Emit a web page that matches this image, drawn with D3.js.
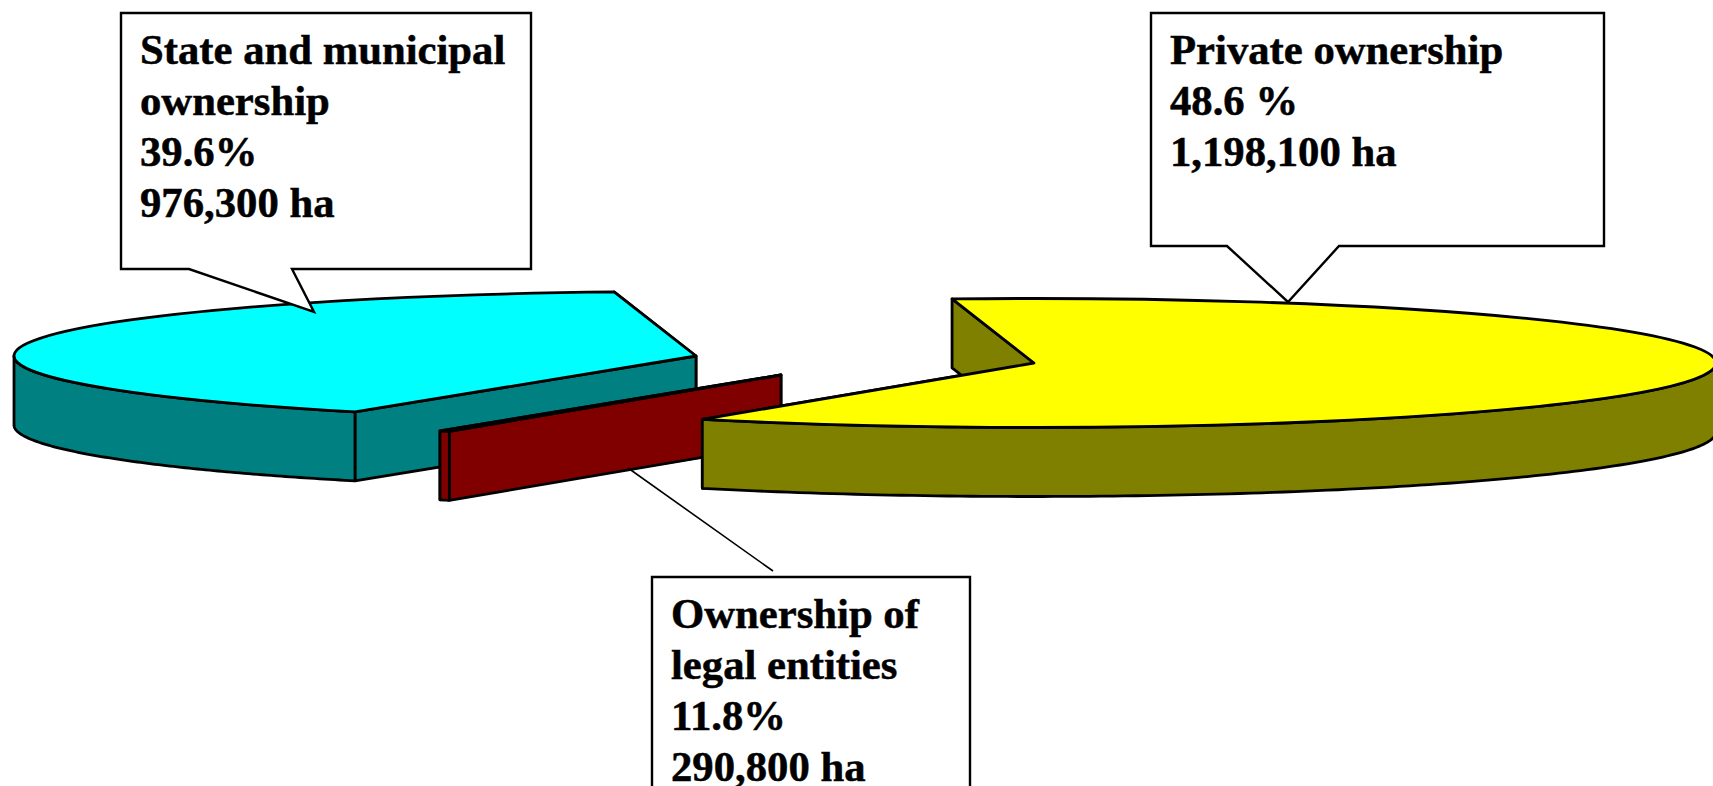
<!DOCTYPE html>
<html lang="en">
<head>
    <meta charset="UTF-8">
    <title>Land ownership</title>
    <script src="https://d3js.org/d3.v7.min.js"></script>
    <style>
        html, body { margin: 0; padding: 0; background: #fff; overflow: hidden; }
        svg { display: block; }
        .edge { stroke: #000; stroke-width: 2.8px; stroke-linejoin: round; }
        .top { vector-effect: non-scaling-stroke; }
        .box { fill: #fff; stroke: #000; stroke-width: 2.4px; stroke-linejoin: miter; }
        .leader { fill: none; stroke: #000; stroke-width: 1.6px; }
        .label { font: bold 42.7px "Liberation Serif", "Times New Roman", serif; fill: #000; stroke: #000; stroke-width: 0.5px; }
    </style>
</head>
<body>
    <div id="chart"></div>
    <script>
        // labels as printed on the callouts
        const categories = ["State and municipal ownership", "Ownership of legal entities", "Private ownership"];
        const shares = ["39.6%", "11.8%", "48.6 %"];
        const areas = ["976,300 ha", "290,800 ha", "1,198,100 ha"];
        // sweep of each slice in degrees as it is actually drawn (not the printed shares)
        const drawnSweep = [143.1, 0.9, 216];

        const topColors = ["#00ffff", "#800000", "#ffff00"];
        const sideColors = ["#008080", "#800000", "#808000"];

        const width = 1713, height = 786;
        const rx = 682, ry = 64.5, depth = 69;
        // each slice is pulled out of the pie, so each has its own centre
        const centres = [[696, 356], [781, 375], [1034, 363]];
        const rad = Math.PI / 180;

        const svg = d3.select("#chart").append("svg")
            .attr("width", width)
            .attr("height", height);

        const slices = d3.pie().sort(null).value(d => d)
            .startAngle(-6.9 * rad)
            .endAngle(-366.9 * rad)(drawnSweep);

        const arc = d3.arc().innerRadius(0).outerRadius(rx);
        const line = d3.line();

        slices.forEach(function(d, i) {
            const [cx, cy] = centres[i];
            const rim = a => [cx + rx * Math.sin(a), cy - ry * Math.cos(a)];
            const g = svg.append("g").attr("class", "slice");

            // two cut faces, the later one sits in front
            [d.startAngle, d.endAngle].forEach(function(a) {
                const p = rim(a);
                g.append("path")
                    .attr("class", "edge")
                    .attr("fill", sideColors[i])
                    .attr("d", line([[cx, cy], p, [p[0], p[1] + depth], [cx, cy + depth]]) + "Z");
            });

            // outer wall, only the part facing the viewer (-90 to -270 deg)
            const from = Math.min(d.startAngle, -90 * rad);
            const to = Math.max(d.endAngle, -270 * rad);
            if (from > to) {
                const upper = d3.range(0, 121).map(k => rim(from + (to - from) * k / 120));
                const lower = upper.map(p => [p[0], p[1] + depth]).reverse();
                g.append("path")
                    .attr("class", "edge")
                    .attr("fill", sideColors[i])
                    .attr("d", line(upper.concat(lower)) + "Z");
            }

            g.append("path")
                .attr("class", "edge top")
                .attr("fill", topColors[i])
                .attr("transform", "translate(" + cx + "," + cy + ") scale(1," + (ry / rx) + ")")
                .attr("d", arc(d));
        });

        // callouts: box, pointer and text position for every category
        const callouts = [
            {i: 0, lines: ["State and municipal", "ownership"], x0: 121, x1: 531, y0: 13, y1: 269,
             tail: [[292, 269], [314, 312], [189, 269]], tx: 140, ty: 63.5},
            {i: 1, lines: ["Ownership of", "legal entities"], x0: 652, x1: 970, y0: 577, y1: 800,
             tail: null, tx: 671, ty: 628},
            {i: 2, lines: ["Private ownership"], x0: 1151, x1: 1604, y0: 13, y1: 246,
             tail: [[1339, 246], [1288, 302], [1227, 246]], tx: 1170, ty: 63.5}
        ];

        callouts.forEach(function(c) {
            const outline = [[c.x0, c.y0], [c.x1, c.y0], [c.x1, c.y1]]
                .concat(c.tail || [])
                .concat([[c.x0, c.y1]]);
            svg.append("path")
                .attr("class", "box")
                .attr("d", line(outline) + "Z");

            const text = svg.append("text").attr("class", "label");
            c.lines.concat([shares[c.i], areas[c.i]]).forEach(function(t, k) {
                text.append("tspan")
                    .attr("x", c.tx)
                    .attr("y", c.ty + k * 51.1)
                    .text(t);
            });
        });

        // legal entities has a plain leader line, not attached to its box
        svg.append("path")
            .attr("class", "leader")
            .attr("d", line([[628, 468], [773, 571]]));
    </script>
</body>
</html>
